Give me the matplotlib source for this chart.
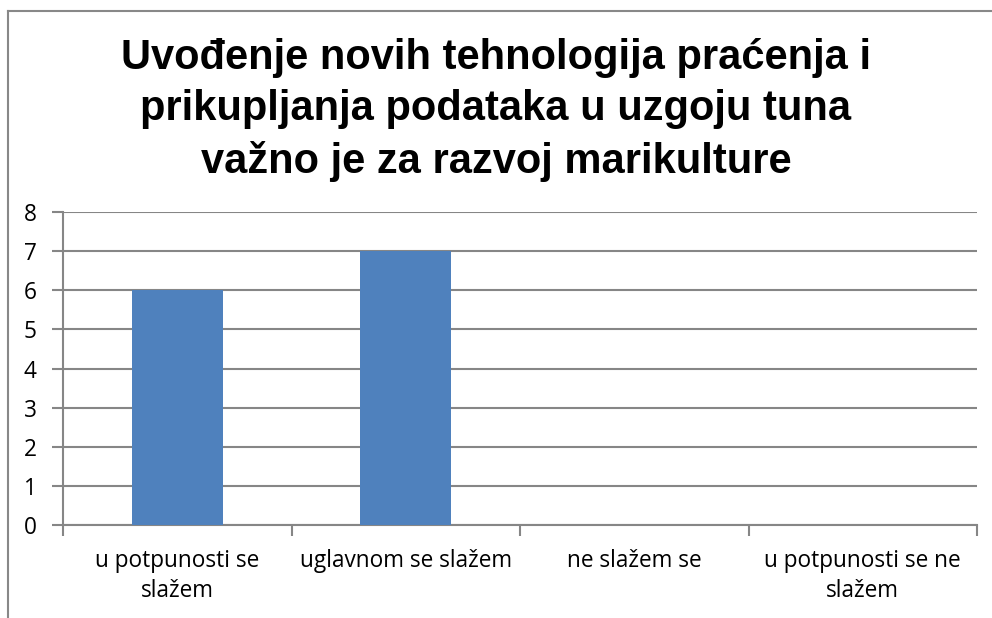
import matplotlib.pyplot as plt
from matplotlib.lines import Line2D
import numpy as np

title = "Uvođenje novih tehnologija praćenja i\nprikupljanja podataka u uzgoju tuna\nvažno je za razvoj marikulture"
categories = ["u potpunosti se\nslažem", "uglavnom se slažem", "ne slažem se", "u potpunosti se ne\nslažem"]
values = [6, 7, 0, 0]

grid_col = "#868686"
bar_col = "#4F81BD"

fig = plt.figure(figsize=(9.92, 6.18), dpi=100)
ax = fig.add_axes([63 / 992, 93 / 618, 914 / 992, 313 / 618])

x = np.arange(len(categories))
ax.bar(x, values, width=0.4, color=bar_col, zorder=3)

ax.set_xlim(-0.5, len(categories) - 0.5)
ax.set_ylim(0, 8)
ax.set_yticks(range(0, 9))
ax.yaxis.grid(True, color=grid_col, linewidth=1.5, zorder=0)

# category labels centred, tick marks on the boundaries between them
ax.set_xticks(x)
ax.set_xticklabels(categories, fontsize=16.3, family="Open Sans", linespacing=1.35)
ax.set_xticks(np.arange(-0.5, len(categories)), minor=True)
ax.tick_params(axis="x", which="major", length=0, pad=17)
ax.tick_params(axis="x", which="minor", length=8, width=1.5, color=grid_col, direction="out")
ax.tick_params(axis="y", length=8, width=1.5, color=grid_col, pad=11, labelsize=16.3)
for lbl in ax.get_yticklabels():
    lbl.set_family("Open Sans")

for side in ("top", "right"):
    ax.spines[side].set_visible(False)
for side in ("left", "bottom"):
    ax.spines[side].set_color(grid_col)
    ax.spines[side].set_linewidth(1.5)

fig.text(0.5, 1 - 110 / 618, title, ha="center", va="center", fontsize=30,
         fontweight="bold", family="Liberation Sans", linespacing=1.36)

# chart area border
fig.add_artist(Line2D([8 / 992, 8 / 992], [0, 1 - 11 / 618], color="#888888", linewidth=1.5))
fig.add_artist(Line2D([8 / 992, 1], [1 - 11 / 618, 1 - 11 / 618], color="#888888", linewidth=1.5))

fig.savefig("out.png", dpi=100)
